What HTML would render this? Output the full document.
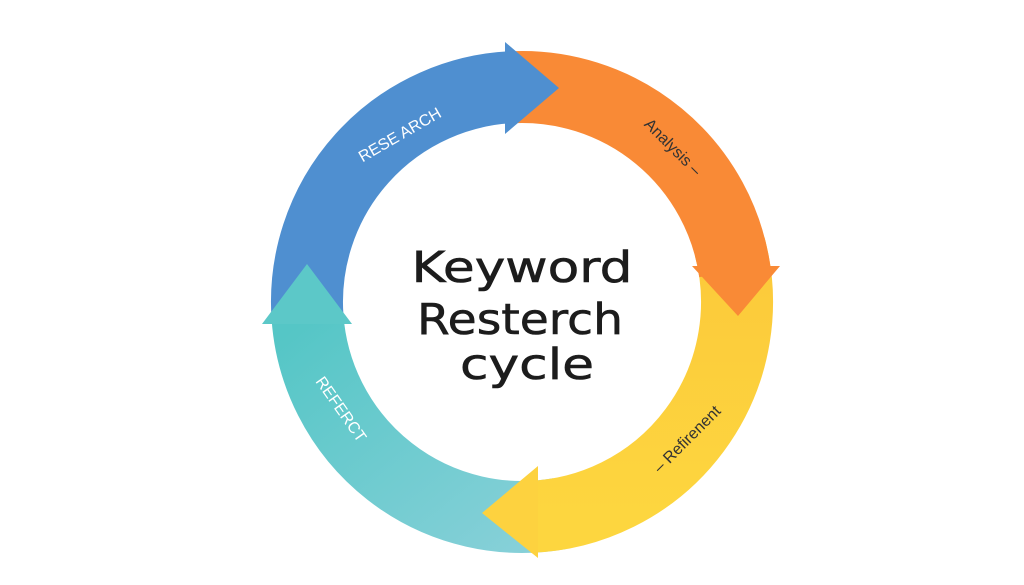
<!DOCTYPE html>
<html><head><meta charset="utf-8"><style>html,body{margin:0;padding:0;background:#fff;}svg{display:block}</style></head>
<body>
<svg width="1024" height="585" viewBox="0 0 1024 585" xmlns="http://www.w3.org/2000/svg">
<defs>
<linearGradient id="tg" x1="0" y1="0" x2="1" y2="1">
<stop offset="0" stop-color="#55c6c6"/><stop offset="1" stop-color="#86d0d8"/></linearGradient>
<linearGradient id="yg" x1="0" y1="0" x2="0" y2="1">
<stop offset="0" stop-color="#fcc93a"/><stop offset="1" stop-color="#fdd63f"/></linearGradient>
</defs>
<rect width="1024" height="585" fill="#fff"/>
<g fill="none" stroke-width="72">
<path d="M307.5,317 A215,215 0 0 1 514.5,87.1" stroke="#4f8fd0"/>
<path d="M559.3,513.7 A215,215 0 0 1 307.5,317" stroke="url(#tg)"/>
<path d="M729.7,246.4 A215,215 0 0 1 529.5,516.9" stroke="url(#yg)"/>
<path d="M510.8,87.3 A215,215 0 0 1 734.9,272.1" stroke="#f98a36"/>
</g>
<polygon points="505,42 559,88 505,134" fill="#4f8fd0"/>
<polygon points="692,266 738,316 780,266" fill="#f98a36"/>
<polygon points="538,466 482,513 538,558" fill="#fdd23f"/>
<polygon points="262,324 307,264 352,324" fill="#5cc8c8"/>
<g font-family="'Liberation Sans',sans-serif" font-size="16">
<text x="400" y="140" fill="#fff" text-anchor="middle" transform="rotate(-30 400 135)">RESE ARCH</text>
<text x="672" y="152" fill="#333" text-anchor="middle" transform="rotate(45 672 148)">Analysis –</text>
<text x="688" y="444" fill="#333" text-anchor="middle" transform="rotate(-45 688 440)">–  Refirenent</text>
<text x="340" y="414" fill="#fff" text-anchor="middle" transform="rotate(55 340 410)">REFERCT</text>
</g>
<g font-family="'DejaVu Sans','Liberation Sans',sans-serif" font-size="43" fill="#1c1c1c" text-anchor="middle" stroke="#1c1c1c" stroke-width="0.6">
<text x="522" y="282" textLength="221" lengthAdjust="spacingAndGlyphs">Keyword</text>
<text x="520" y="334" textLength="206" lengthAdjust="spacingAndGlyphs">Resterch</text>
<text x="527" y="379" textLength="134" lengthAdjust="spacingAndGlyphs">cycle</text>
</g>
</svg>
</body></html>
